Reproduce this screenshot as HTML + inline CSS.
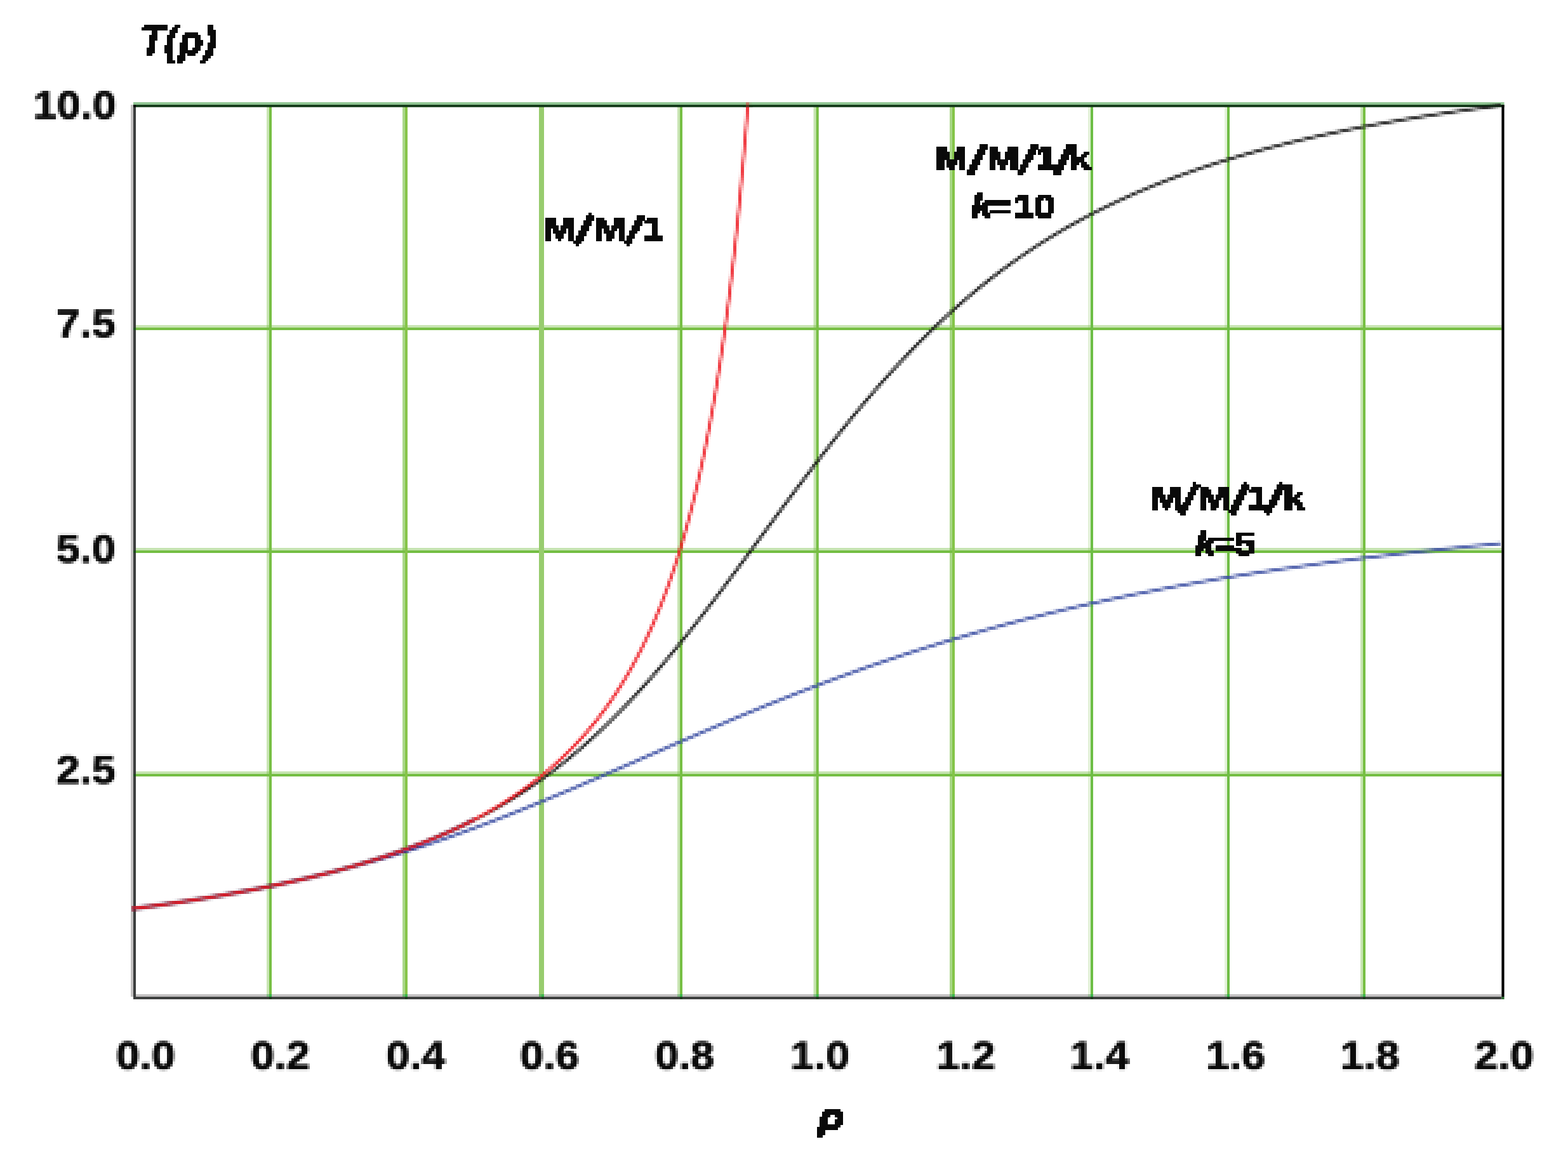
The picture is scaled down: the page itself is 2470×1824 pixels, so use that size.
<!DOCTYPE html>
<html lang="en">
<head>
<meta charset="utf-8">
<title>T(ρ) for M/M/1 and M/M/1/k queues</title>
<style>
html,body{margin:0;padding:0;background:#fff;}
body{width:2470px;height:1824px;overflow:hidden;}
svg{display:block;}
text{font-family:"Liberation Sans",sans-serif;font-weight:bold;fill:#0a0a0a;}
</style>
</head>
<body>
<svg xmlns="http://www.w3.org/2000/svg" width="2470" height="1824" viewBox="0 0 2470 1824" role="img" aria-label="Mean time in system T(ρ) versus load ρ for M/M/1 and M/M/1/k queues">
<defs>
<clipPath id="plotclip"><rect x="206" y="161" width="2159.4" height="1413"/></clipPath>
<filter id="pxc" x="200" y="148" width="2176" height="1432" filterUnits="userSpaceOnUse" primitiveUnits="userSpaceOnUse" color-interpolation-filters="sRGB">
<feGaussianBlur in="SourceGraphic" stdDeviation="0.8" result="b"/>
<feFlood x="201" y="149" width="1" height="1" flood-color="#000" flood-opacity="1" result="dot"/>
<feComposite in="dot" in2="dot" operator="over" x="200" y="148" width="4" height="4" result="cell"/>
<feTile in="cell" result="grid"/>
<feComposite in="b" in2="grid" operator="in" result="samp0"/>
<feOffset in="samp0" dx="0" dy="0" result="samp"/>
<feMorphology in="samp" operator="dilate" radius="2" result="m2"/>
<feGaussianBlur in="m2" stdDeviation="0.5"/>
</filter>
<filter id="px-yticks" x="28" y="120" width="172" height="1140" filterUnits="userSpaceOnUse" primitiveUnits="userSpaceOnUse" color-interpolation-filters="sRGB">
<feGaussianBlur in="SourceGraphic" stdDeviation="0.8" result="b"/>
<feFlood x="29" y="121" width="1" height="1" flood-color="#000" flood-opacity="1" result="dot"/>
<feComposite in="dot" in2="dot" operator="over" x="28" y="120" width="4" height="4" result="cell"/>
<feTile in="cell" result="grid"/>
<feComposite in="b" in2="grid" operator="in" result="samp0"/>
<feOffset in="samp0" dx="0" dy="0" result="samp"/>
<feMorphology in="samp" operator="dilate" radius="2" result="m2"/>
<feGaussianBlur in="m2" stdDeviation="0.5"/>
</filter>
<filter id="px-xticks" x="160" y="1620" width="2280" height="92" filterUnits="userSpaceOnUse" primitiveUnits="userSpaceOnUse" color-interpolation-filters="sRGB">
<feGaussianBlur in="SourceGraphic" stdDeviation="0.8" result="b"/>
<feFlood x="161" y="1621" width="1" height="1" flood-color="#000" flood-opacity="1" result="dot"/>
<feComposite in="dot" in2="dot" operator="over" x="160" y="1620" width="4" height="4" result="cell"/>
<feTile in="cell" result="grid"/>
<feComposite in="b" in2="grid" operator="in" result="samp0"/>
<feOffset in="samp0" dx="0" dy="0" result="samp"/>
<feMorphology in="samp" operator="dilate" radius="2" result="m2"/>
<feGaussianBlur in="m2" stdDeviation="0.5"/>
</filter>
<filter id="px-ytitle" x="200" y="20" width="172" height="100" filterUnits="userSpaceOnUse" primitiveUnits="userSpaceOnUse" color-interpolation-filters="sRGB">
<feGaussianBlur in="SourceGraphic" stdDeviation="0.8" result="b"/>
<feFlood x="201" y="21" width="1" height="1" flood-color="#000" flood-opacity="1" result="dot"/>
<feComposite in="dot" in2="dot" operator="over" x="200" y="20" width="4" height="4" result="cell"/>
<feTile in="cell" result="grid"/>
<feComposite in="b" in2="grid" operator="in" result="samp0"/>
<feComponentTransfer in="samp0" result="samp"><feFuncA type="discrete" tableValues="0 1"/></feComponentTransfer>
<feMorphology in="samp" operator="dilate" radius="2" result="m2"/>
<feGaussianBlur in="m2" stdDeviation="0.5"/>
</filter>
<filter id="px-xtitle" x="1260" y="1720" width="100" height="100" filterUnits="userSpaceOnUse" primitiveUnits="userSpaceOnUse" color-interpolation-filters="sRGB">
<feGaussianBlur in="SourceGraphic" stdDeviation="0.8" result="b"/>
<feFlood x="1261" y="1721" width="1" height="1" flood-color="#000" flood-opacity="1" result="dot"/>
<feComposite in="dot" in2="dot" operator="over" x="1260" y="1720" width="4" height="4" result="cell"/>
<feTile in="cell" result="grid"/>
<feComposite in="b" in2="grid" operator="in" result="samp0"/>
<feComponentTransfer in="samp0" result="samp"><feFuncA type="discrete" tableValues="0 1"/></feComponentTransfer>
<feMorphology in="samp" operator="dilate" radius="2" result="m2"/>
<feGaussianBlur in="m2" stdDeviation="0.5"/>
</filter>
<filter id="px-lab-mm1" x="840" y="308" width="232" height="104" filterUnits="userSpaceOnUse" primitiveUnits="userSpaceOnUse" color-interpolation-filters="sRGB">
<feGaussianBlur in="SourceGraphic" stdDeviation="0.8" result="b"/>
<feFlood x="841" y="309" width="1" height="1" flood-color="#000" flood-opacity="1" result="dot"/>
<feComposite in="dot" in2="dot" operator="over" x="840" y="308" width="4" height="4" result="cell"/>
<feTile in="cell" result="grid"/>
<feComposite in="b" in2="grid" operator="in" result="samp0"/>
<feComponentTransfer in="samp0" result="samp"><feFuncA type="discrete" tableValues="0 1"/></feComponentTransfer>
<feMorphology in="samp" operator="dilate" radius="2" result="m2"/>
<feGaussianBlur in="m2" stdDeviation="0.5"/>
</filter>
<filter id="px-lab-mm1k10" x="1448" y="200" width="304" height="172" filterUnits="userSpaceOnUse" primitiveUnits="userSpaceOnUse" color-interpolation-filters="sRGB">
<feGaussianBlur in="SourceGraphic" stdDeviation="0.8" result="b"/>
<feFlood x="1449" y="201" width="1" height="1" flood-color="#000" flood-opacity="1" result="dot"/>
<feComposite in="dot" in2="dot" operator="over" x="1448" y="200" width="4" height="4" result="cell"/>
<feTile in="cell" result="grid"/>
<feComposite in="b" in2="grid" operator="in" result="samp0"/>
<feComponentTransfer in="samp0" result="samp"><feFuncA type="discrete" tableValues="0 1"/></feComponentTransfer>
<feMorphology in="samp" operator="dilate" radius="2" result="m2"/>
<feGaussianBlur in="m2" stdDeviation="0.5"/>
</filter>
<filter id="px-lab-mm1k5" x="1788" y="740" width="304" height="160" filterUnits="userSpaceOnUse" primitiveUnits="userSpaceOnUse" color-interpolation-filters="sRGB">
<feGaussianBlur in="SourceGraphic" stdDeviation="0.8" result="b"/>
<feFlood x="1789" y="741" width="1" height="1" flood-color="#000" flood-opacity="1" result="dot"/>
<feComposite in="dot" in2="dot" operator="over" x="1788" y="740" width="4" height="4" result="cell"/>
<feTile in="cell" result="grid"/>
<feComposite in="b" in2="grid" operator="in" result="samp0"/>
<feComponentTransfer in="samp0" result="samp"><feFuncA type="discrete" tableValues="0 1"/></feComponentTransfer>
<feMorphology in="samp" operator="dilate" radius="2" result="m2"/>
<feGaussianBlur in="m2" stdDeviation="0.5"/>
</filter>
</defs>
<rect width="2470" height="1824" fill="#fff"/>
<g id="grid">
<rect x="214" y="512" width="2151.5" height="4" fill="#77bf44" fill-opacity="0.4"/>
<rect x="212" y="516" width="2153.5" height="4" fill="#77bf44"/>
<rect x="214" y="863" width="2151.5" height="4" fill="#77bf44" fill-opacity="0.42"/>
<rect x="212" y="867" width="2153.5" height="4" fill="#74be43"/>
<rect x="214" y="1215" width="2151.5" height="4" fill="#77bf44" fill-opacity="0.42"/>
<rect x="212" y="1219" width="2153.5" height="4" fill="#74be43"/>
<rect x="420" y="168" width="4" height="1402" fill="#77bf44" fill-opacity="0.4"/>
<rect x="424" y="168" width="4" height="1402" fill="#77bf44"/>
<rect x="634" y="168" width="4" height="1402" fill="#77bf44" fill-opacity="0.62"/>
<rect x="638" y="168" width="4" height="1402" fill="#86c448"/>
<rect x="849" y="168" width="8" height="1402" fill="#98cc6e"/>
<rect x="1067" y="168" width="4" height="1402" fill="#77bf44" fill-opacity="0.4"/>
<rect x="1071" y="168" width="4" height="1402" fill="#77bf44"/>
<rect x="1281.5" y="168" width="4.0" height="1402" fill="#77bf44" fill-opacity="0.42"/>
<rect x="1285.5" y="168" width="4.2000000000000455" height="1402" fill="#76be43"/>
<rect x="1496" y="168" width="4" height="1402" fill="#77bf44" fill-opacity="0.64"/>
<rect x="1500" y="168" width="4" height="1402" fill="#84c448"/>
<rect x="1714" y="168" width="4" height="1402" fill="#77bf44" fill-opacity="0.21"/>
<rect x="1718" y="168" width="4" height="1402" fill="#6dbe46"/>
<rect x="1929" y="168" width="4" height="1402" fill="#77bf44" fill-opacity="0.2"/>
<rect x="1933" y="168" width="4" height="1402" fill="#6fbd45"/>
<rect x="2143" y="168" width="4" height="1402" fill="#77bf44" fill-opacity="0.4"/>
<rect x="2147" y="168" width="4" height="1402" fill="#77bf43"/>
</g>
<g id="frame">
<rect x="214" y="1566" width="2151.5" height="4" fill="#c3c1c1"/>
<rect x="210" y="1570" width="2155.5" height="4" fill="#3e403f"/>
<rect x="420" y="1566" width="4" height="4" fill="#5fb560" fill-opacity="0.60"/>
<rect x="424" y="1566" width="4" height="4" fill="#3ab54a"/>
<rect x="424" y="1570" width="4" height="4" fill="#1f3d1f"/>
<rect x="634" y="1566" width="4" height="4" fill="#5fb560" fill-opacity="0.82"/>
<rect x="638" y="1566" width="4" height="4" fill="#3ab54a"/>
<rect x="638" y="1570" width="4" height="4" fill="#1f3d1f"/>
<rect x="849" y="1566" width="4" height="4" fill="#5fb560" fill-opacity="0.98"/>
<rect x="853" y="1566" width="4" height="4" fill="#3ab54a"/>
<rect x="853" y="1570" width="4" height="4" fill="#1f3d1f"/>
<rect x="1067" y="1566" width="4" height="4" fill="#5fb560" fill-opacity="0.60"/>
<rect x="1071" y="1566" width="4" height="4" fill="#3ab54a"/>
<rect x="1071" y="1570" width="4" height="4" fill="#1f3d1f"/>
<rect x="1281.5" y="1566" width="4.0" height="4" fill="#5fb560" fill-opacity="0.62"/>
<rect x="1285.5" y="1566" width="4.2000000000000455" height="4" fill="#3ab54a"/>
<rect x="1285.5" y="1570" width="4.2000000000000455" height="4" fill="#1f3d1f"/>
<rect x="1496" y="1566" width="4" height="4" fill="#5fb560" fill-opacity="0.84"/>
<rect x="1500" y="1566" width="4" height="4" fill="#3ab54a"/>
<rect x="1500" y="1570" width="4" height="4" fill="#1f3d1f"/>
<rect x="1714" y="1566" width="4" height="4" fill="#5fb560" fill-opacity="0.41"/>
<rect x="1718" y="1566" width="4" height="4" fill="#3ab54a"/>
<rect x="1718" y="1570" width="4" height="4" fill="#1f3d1f"/>
<rect x="1929" y="1566" width="4" height="4" fill="#5fb560" fill-opacity="0.40"/>
<rect x="1933" y="1566" width="4" height="4" fill="#3ab54a"/>
<rect x="1933" y="1570" width="4" height="4" fill="#1f3d1f"/>
<rect x="2143" y="1566" width="4" height="4" fill="#5fb560" fill-opacity="0.60"/>
<rect x="2147" y="1566" width="4" height="4" fill="#3ab54a"/>
<rect x="2147" y="1570" width="4" height="4" fill="#1f3d1f"/>
<rect x="206" y="165" width="4" height="1405" fill="#c3c1c1"/>
<rect x="210" y="165" width="4" height="1409" fill="#3c3e3d"/>
<rect x="210" y="516" width="4" height="4" fill="#1f4a22"/>
<rect x="210" y="867" width="4" height="4" fill="#1f4a22"/>
<rect x="210" y="1219" width="4" height="4" fill="#1f4a22"/>
<rect x="210" y="161" width="2159.6" height="4" fill="#8fc492"/>
<rect x="210" y="165" width="2159.6" height="3.8" fill="#133a19"/>
<rect x="210" y="165" width="4" height="3.8" fill="#050805"/>
</g>
<g id="curves" clip-path="url(#plotclip)">
<g fill="none" stroke-width="3.3" stroke-linejoin="round" filter="url(#pxc)">
<path d="M208.0 1431.5 L215.2 1430.6 L222.4 1429.6 L229.6 1428.6 L236.7 1427.7 L243.9 1426.7 L251.1 1425.6 L258.3 1424.6 L265.5 1423.6 L272.7 1422.5 L279.9 1421.5 L287.0 1420.4 L294.2 1419.3 L301.4 1418.2 L308.6 1417.0 L315.8 1415.9 L323.0 1414.7 L330.1 1413.5 L337.3 1412.3 L344.5 1411.1 L351.7 1409.9 L358.9 1408.6 L366.1 1407.4 L373.3 1406.1 L380.4 1404.8 L387.6 1403.4 L394.8 1402.1 L402.0 1400.7 L409.2 1399.3 L416.4 1397.9 L423.6 1396.4 L430.7 1395.0 L437.9 1393.5 L445.1 1392.0 L452.3 1390.4 L459.5 1388.9 L466.7 1387.3 L473.8 1385.7 L481.0 1384.1 L488.2 1382.4 L495.4 1380.7 L502.6 1379.0 L509.8 1377.3 L517.0 1375.5 L524.1 1373.7 L531.3 1371.9 L538.5 1370.1 L545.7 1368.2 L552.9 1366.3 L560.1 1364.4 L567.2 1362.4 L574.4 1360.4 L581.6 1358.4 L588.8 1356.4 L596.0 1354.3 L603.2 1352.2 L610.4 1350.1 L617.5 1347.9 L624.7 1345.8 L631.9 1343.5 L639.1 1341.3 L646.3 1339.0 L653.5 1336.7 L660.7 1334.4 L667.8 1332.1 L675.0 1329.7 L682.2 1327.3 L689.4 1324.8 L696.6 1322.4 L703.8 1319.9 L711.0 1317.4 L718.1 1314.8 L725.3 1312.2 L732.5 1309.6 L739.7 1307.0 L746.9 1304.4 L754.1 1301.7 L761.2 1299.0 L768.4 1296.3 L775.6 1293.6 L782.8 1290.8 L790.0 1288.0 L797.2 1285.2 L804.4 1282.4 L811.5 1279.5 L818.7 1276.6 L825.9 1273.7 L833.1 1270.8 L840.3 1267.9 L847.5 1265.0 L854.6 1262.0 L861.8 1259.0 L869.0 1256.0 L876.2 1253.0 L883.4 1250.0 L890.6 1247.0 L897.8 1243.9 L904.9 1240.9 L912.1 1237.8 L919.3 1234.7 L926.5 1231.6 L933.7 1228.5 L940.9 1225.4 L948.1 1222.3 L955.2 1219.2 L962.4 1216.1 L969.6 1212.9 L976.8 1209.8 L984.0 1206.7 L991.2 1203.5 L998.3 1200.4 L1005.5 1197.2 L1012.7 1194.1 L1019.9 1190.9 L1027.1 1187.8 L1034.3 1184.7 L1041.5 1181.5 L1048.6 1178.4 L1055.8 1175.3 L1063.0 1172.1 L1070.2 1169.0 L1077.4 1165.9 L1084.6 1162.8 L1091.8 1159.7 L1098.9 1156.6 L1106.1 1153.5 L1113.3 1150.4 L1120.5 1147.3 L1127.7 1144.3 L1134.9 1141.2 L1142.1 1138.2 L1149.2 1135.1 L1156.4 1132.1 L1163.6 1129.1 L1170.8 1126.1 L1178.0 1123.1 L1185.2 1120.2 L1192.3 1117.2 L1199.5 1114.3 L1206.7 1111.3 L1213.9 1108.4 L1221.1 1105.5 L1228.3 1102.7 L1235.5 1099.8 L1242.6 1097.0 L1249.8 1094.1 L1257.0 1091.3 L1264.2 1088.5 L1271.4 1085.8 L1278.6 1083.0 L1285.8 1080.4 L1292.9 1077.5 L1300.1 1074.8 L1307.3 1072.1 L1314.5 1069.5 L1321.7 1066.8 L1328.9 1064.2 L1336.0 1061.6 L1343.2 1059.0 L1350.4 1056.4 L1357.6 1053.9 L1364.8 1051.3 L1372.0 1048.8 L1379.2 1046.3 L1386.3 1043.9 L1393.5 1041.4 L1400.7 1039.0 L1407.9 1036.6 L1415.1 1034.2 L1422.3 1031.8 L1429.5 1029.4 L1436.6 1027.1 L1443.8 1024.8 L1451.0 1022.5 L1458.2 1020.2 L1465.4 1018.0 L1472.6 1015.8 L1479.7 1013.5 L1486.9 1011.4 L1494.1 1009.2 L1501.3 1007.0 L1508.5 1004.9 L1515.7 1002.8 L1522.9 1000.7 L1530.0 998.6 L1537.2 996.6 L1544.4 994.5 L1551.6 992.5 L1558.8 990.5 L1566.0 988.5 L1573.1 986.6 L1580.3 984.6 L1587.5 982.7 L1594.7 980.8 L1601.9 978.9 L1609.1 977.0 L1616.3 975.2 L1623.4 973.4 L1630.6 971.6 L1637.8 969.8 L1645.0 968.0 L1652.2 966.2 L1659.4 964.5 L1666.6 962.8 L1673.7 961.0 L1680.9 959.4 L1688.1 957.7 L1695.3 956.0 L1702.5 954.4 L1709.7 952.8 L1716.8 951.1 L1724.0 949.6 L1731.2 948.0 L1738.4 946.4 L1745.6 944.9 L1752.8 943.3 L1760.0 941.8 L1767.1 940.3 L1774.3 938.8 L1781.5 937.4 L1788.7 935.9 L1795.9 934.5 L1803.1 933.1 L1810.3 931.6 L1817.4 930.3 L1824.6 928.9 L1831.8 927.5 L1839.0 926.1 L1846.2 924.8 L1853.4 923.5 L1860.6 922.2 L1867.7 920.9 L1874.9 919.6 L1882.1 918.3 L1889.3 917.0 L1896.5 915.8 L1903.7 914.6 L1910.8 913.3 L1918.0 912.1 L1925.2 910.9 L1932.4 909.7 L1939.6 908.6 L1946.8 907.4 L1954.0 906.2 L1961.1 905.1 L1968.3 904.0 L1975.5 902.9 L1982.7 901.7 L1989.9 900.7 L1997.1 899.6 L2004.2 898.5 L2011.4 897.4 L2018.6 896.4 L2025.8 895.3 L2033.0 894.3 L2040.2 893.3 L2047.4 892.3 L2054.5 891.3 L2061.7 890.3 L2068.9 889.3 L2076.1 888.3 L2083.3 887.4 L2090.5 886.4 L2097.7 885.5 L2104.8 884.5 L2112.0 883.6 L2119.2 882.7 L2126.4 881.8 L2133.6 880.9 L2140.8 880.0 L2147.9 879.1 L2155.1 878.2 L2162.3 877.3 L2169.5 876.5 L2176.7 875.6 L2183.9 874.8 L2191.1 874.0 L2198.2 873.1 L2205.4 872.3 L2212.6 871.5 L2219.8 870.7 L2227.0 869.9 L2234.2 869.1 L2241.4 868.3 L2248.5 867.6 L2255.7 866.8 L2262.9 866.0 L2270.1 865.3 L2277.3 864.5 L2284.5 863.8 L2291.7 863.1 L2298.8 862.4 L2306.0 861.6 L2313.2 860.9 L2320.4 860.2 L2327.6 859.5 L2334.8 858.8 L2341.9 858.1 L2349.1 857.5 L2356.3 856.8 L2363.5 856.1" stroke="#3b4ea2"/>
<path d="M208.0 1431.5 L215.2 1430.6 L222.4 1429.6 L229.6 1428.6 L236.7 1427.7 L243.9 1426.7 L251.1 1425.6 L258.3 1424.6 L265.5 1423.6 L272.7 1422.5 L279.9 1421.5 L287.0 1420.4 L294.2 1419.3 L301.4 1418.2 L308.6 1417.0 L315.8 1415.9 L323.0 1414.7 L330.1 1413.5 L337.3 1412.3 L344.5 1411.1 L351.7 1409.9 L358.9 1408.6 L366.1 1407.4 L373.3 1406.1 L380.4 1404.7 L387.6 1403.4 L394.8 1402.0 L402.0 1400.7 L409.2 1399.3 L416.4 1397.8 L423.6 1396.4 L430.7 1394.9 L437.9 1393.4 L445.1 1391.9 L452.3 1390.3 L459.5 1388.7 L466.7 1387.1 L473.8 1385.5 L481.0 1383.8 L488.2 1382.1 L495.4 1380.4 L502.6 1378.7 L509.8 1376.9 L517.0 1375.0 L524.1 1373.2 L531.3 1371.3 L538.5 1369.4 L545.7 1367.4 L552.9 1365.4 L560.1 1363.3 L567.2 1361.3 L574.4 1359.1 L581.6 1357.0 L588.8 1354.7 L596.0 1352.5 L603.2 1350.2 L610.4 1347.8 L617.5 1345.4 L624.7 1343.0 L631.9 1340.5 L639.1 1337.9 L646.3 1335.3 L653.5 1332.6 L660.7 1329.9 L667.8 1327.1 L675.0 1324.2 L682.2 1321.3 L689.4 1318.3 L696.6 1315.2 L703.8 1312.1 L711.0 1308.9 L718.1 1305.6 L725.3 1302.3 L732.5 1298.9 L739.7 1295.3 L746.9 1291.8 L754.1 1288.1 L761.2 1284.3 L768.4 1280.5 L775.6 1276.5 L782.8 1272.5 L790.0 1268.3 L797.2 1264.1 L804.4 1259.8 L811.5 1255.3 L818.7 1250.8 L825.9 1246.1 L833.1 1241.3 L840.3 1236.5 L847.5 1231.5 L854.6 1226.4 L861.8 1221.2 L869.0 1215.8 L876.2 1210.3 L883.4 1204.8 L890.6 1199.0 L897.8 1193.2 L904.9 1187.2 L912.1 1181.2 L919.3 1174.9 L926.5 1168.6 L933.7 1162.1 L940.9 1155.5 L948.1 1148.7 L955.2 1141.9 L962.4 1134.8 L969.6 1127.7 L976.8 1120.4 L984.0 1113.0 L991.2 1105.5 L998.3 1097.8 L1005.5 1090.1 L1012.7 1082.2 L1019.9 1074.1 L1027.1 1066.0 L1034.3 1057.7 L1041.5 1049.3 L1048.6 1040.8 L1055.8 1032.2 L1063.0 1023.5 L1070.2 1014.7 L1077.4 1005.8 L1084.6 996.8 L1091.8 987.8 L1098.9 978.6 L1106.1 969.4 L1113.3 960.0 L1120.5 950.7 L1127.7 941.2 L1134.9 931.7 L1142.1 922.2 L1149.2 912.5 L1156.4 902.9 L1163.6 893.2 L1170.8 883.5 L1178.0 873.8 L1185.2 864.0 L1192.3 854.3 L1199.5 844.5 L1206.7 834.8 L1213.9 825.0 L1221.1 815.3 L1228.3 805.5 L1235.5 795.8 L1242.6 786.2 L1249.8 776.5 L1257.0 766.9 L1264.2 757.4 L1271.4 747.9 L1278.6 738.4 L1285.8 728.9 L1292.9 719.7 L1300.1 710.4 L1307.3 701.2 L1314.5 692.1 L1321.7 683.0 L1328.9 674.1 L1336.0 665.2 L1343.2 656.4 L1350.4 647.7 L1357.6 639.1 L1364.8 630.6 L1372.0 622.2 L1379.2 613.8 L1386.3 605.6 L1393.5 597.5 L1400.7 589.5 L1407.9 581.6 L1415.1 573.8 L1422.3 566.1 L1429.5 558.5 L1436.6 551.0 L1443.8 543.7 L1451.0 536.4 L1458.2 529.3 L1465.4 522.2 L1472.6 515.3 L1479.7 508.5 L1486.9 501.7 L1494.1 495.1 L1501.3 488.6 L1508.5 482.3 L1515.7 476.0 L1522.9 469.8 L1530.0 463.7 L1537.2 457.7 L1544.4 451.9 L1551.6 446.1 L1558.8 440.4 L1566.0 434.9 L1573.1 429.4 L1580.3 424.0 L1587.5 418.8 L1594.7 413.6 L1601.9 408.5 L1609.1 403.5 L1616.3 398.6 L1623.4 393.8 L1630.6 389.0 L1637.8 384.4 L1645.0 379.8 L1652.2 375.4 L1659.4 371.0 L1666.6 366.7 L1673.7 362.4 L1680.9 358.3 L1688.1 354.2 L1695.3 350.2 L1702.5 346.3 L1709.7 342.4 L1716.8 338.6 L1724.0 334.9 L1731.2 331.3 L1738.4 327.7 L1745.6 324.2 L1752.8 320.7 L1760.0 317.3 L1767.1 314.0 L1774.3 310.7 L1781.5 307.5 L1788.7 304.3 L1795.9 301.3 L1803.1 298.2 L1810.3 295.2 L1817.4 292.3 L1824.6 289.4 L1831.8 286.6 L1839.0 283.8 L1846.2 281.1 L1853.4 278.4 L1860.6 275.8 L1867.7 273.2 L1874.9 270.7 L1882.1 268.2 L1889.3 265.7 L1896.5 263.3 L1903.7 260.9 L1910.8 258.6 L1918.0 256.3 L1925.2 254.0 L1932.4 251.8 L1939.6 249.7 L1946.8 247.5 L1954.0 245.4 L1961.1 243.3 L1968.3 241.3 L1975.5 239.3 L1982.7 237.3 L1989.9 235.4 L1997.1 233.5 L2004.2 231.6 L2011.4 229.8 L2018.6 228.0 L2025.8 226.2 L2033.0 224.4 L2040.2 222.7 L2047.4 221.0 L2054.5 219.3 L2061.7 217.7 L2068.9 216.0 L2076.1 214.4 L2083.3 212.9 L2090.5 211.3 L2097.7 209.8 L2104.8 208.3 L2112.0 206.8 L2119.2 205.3 L2126.4 203.9 L2133.6 202.5 L2140.8 201.1 L2147.9 199.7 L2155.1 198.4 L2162.3 197.0 L2169.5 195.7 L2176.7 194.4 L2183.9 193.1 L2191.1 191.9 L2198.2 190.6 L2205.4 189.4 L2212.6 188.2 L2219.8 187.0 L2227.0 185.8 L2234.2 184.7 L2241.4 183.5 L2248.5 182.4 L2255.7 181.3 L2262.9 180.2 L2270.1 179.1 L2277.3 178.0 L2284.5 177.0 L2291.7 175.9 L2298.8 174.9 L2306.0 173.9 L2313.2 172.9 L2320.4 171.9 L2327.6 170.9 L2334.8 170.0 L2341.9 169.0 L2349.1 168.1 L2356.3 167.2 L2363.5 166.2" stroke="#161616"/>
<path d="M208.0 1431.5 L214.7 1430.6 L221.5 1429.7 L228.2 1428.8 L234.9 1427.9 L241.7 1427.0 L248.4 1426.0 L255.2 1425.1 L261.9 1424.1 L268.6 1423.1 L275.4 1422.1 L282.1 1421.1 L288.8 1420.1 L295.6 1419.1 L302.3 1418.0 L309.0 1417.0 L315.8 1415.9 L322.5 1414.8 L329.2 1413.7 L336.0 1412.6 L342.7 1411.4 L349.5 1410.3 L356.2 1409.1 L362.9 1407.9 L369.7 1406.7 L376.4 1405.5 L383.1 1404.2 L389.9 1403.0 L396.6 1401.7 L403.3 1400.4 L410.1 1399.1 L416.8 1397.7 L423.6 1396.4 L430.3 1395.0 L437.0 1393.6 L443.8 1392.2 L450.5 1390.7 L457.2 1389.2 L464.0 1387.7 L470.7 1386.2 L477.4 1384.7 L484.2 1383.1 L490.9 1381.5 L497.6 1379.9 L504.4 1378.2 L511.1 1376.5 L517.9 1374.8 L524.6 1373.1 L531.3 1371.3 L538.1 1369.5 L544.8 1367.6 L551.5 1365.8 L558.3 1363.9 L565.0 1361.9 L571.7 1359.9 L578.5 1357.9 L585.2 1355.8 L591.9 1353.7 L598.7 1351.6 L605.4 1349.4 L612.2 1347.2 L618.9 1344.9 L625.6 1342.6 L632.4 1340.2 L639.1 1337.8 L645.8 1335.4 L652.6 1332.9 L659.3 1330.3 L666.0 1327.7 L672.8 1325.0 L679.5 1322.2 L686.3 1319.4 L693.0 1316.5 L699.7 1313.6 L706.5 1310.6 L713.2 1307.5 L719.9 1304.4 L726.7 1301.2 L733.4 1297.9 L740.1 1294.5 L746.9 1291.0" stroke="#2b1f4a" stroke-width="5.4"/>
<path d="M208.0 1431.5 L211.7 1431.0 L215.5 1430.5 L219.2 1430.0 L223.0 1429.5 L226.7 1429.0 L230.5 1428.5 L234.2 1428.0 L238.0 1427.5 L241.7 1427.0 L245.5 1426.4 L249.2 1425.9 L253.0 1425.4 L256.7 1424.8 L260.5 1424.3 L264.2 1423.8 L268.0 1423.2 L271.7 1422.7 L275.5 1422.1 L279.2 1421.6 L283.0 1421.0 L286.7 1420.4 L290.5 1419.9 L294.2 1419.3 L298.0 1418.7 L301.7 1418.1 L305.5 1417.5 L309.2 1416.9 L313.0 1416.3 L316.7 1415.7 L320.5 1415.1 L324.2 1414.5 L328.0 1413.9 L331.7 1413.3 L335.5 1412.7 L339.2 1412.0 L343.0 1411.4 L346.7 1410.7 L350.5 1410.1 L354.2 1409.4 L358.0 1408.8 L361.7 1408.1 L365.5 1407.5 L369.2 1406.8 L373.0 1406.1 L376.7 1405.4 L380.5 1404.7 L384.2 1404.0 L388.0 1403.3 L391.7 1402.6 L395.5 1401.9 L399.2 1401.2 L403.0 1400.5 L406.7 1399.7 L410.5 1399.0 L414.2 1398.3 L418.0 1397.5 L421.7 1396.7 L425.5 1396.0 L429.2 1395.2 L433.0 1394.4 L436.7 1393.7 L440.5 1392.9 L444.2 1392.1 L448.0 1391.3 L451.7 1390.4 L455.5 1389.6 L459.2 1388.8 L463.0 1388.0 L466.7 1387.1 L470.5 1386.3 L474.2 1385.4 L478.0 1384.5 L481.7 1383.7 L485.5 1382.8 L489.2 1381.9 L492.9 1381.0 L496.7 1380.1 L500.4 1379.2 L504.2 1378.3 L507.9 1377.3 L511.7 1376.4 L515.4 1375.4 L519.2 1374.5 L522.9 1373.5 L526.7 1372.5 L530.4 1371.5 L534.2 1370.5 L537.9 1369.5 L541.7 1368.5 L545.4 1367.5 L549.2 1366.4 L552.9 1365.4 L556.7 1364.3 L560.4 1363.2 L564.2 1362.1 L567.9 1361.0 L571.7 1359.9 L575.4 1358.8 L579.2 1357.7 L582.9 1356.5 L586.7 1355.4 L590.4 1354.2 L594.2 1353.0 L597.9 1351.8 L601.7 1350.6 L605.4 1349.4 L609.2 1348.2 L612.9 1346.9 L616.7 1345.7 L620.4 1344.4 L624.2 1343.1 L627.9 1341.8 L631.7 1340.5 L635.4 1339.2 L639.2 1337.8 L642.9 1336.4 L646.7 1335.1 L650.4 1333.7 L654.2 1332.2 L657.9 1330.8 L661.7 1329.4 L665.4 1327.9 L669.2 1326.4 L672.9 1324.9 L676.7 1323.4 L680.4 1321.9 L684.2 1320.3 L687.9 1318.7 L691.7 1317.1 L695.4 1315.5 L699.2 1313.9 L702.9 1312.2 L706.7 1310.5 L710.4 1308.8 L714.2 1307.1 L717.9 1305.3 L721.7 1303.6 L725.4 1301.8 L729.2 1299.9 L732.9 1298.1 L736.7 1296.2 L740.4 1294.3 L744.2 1292.4 L747.9 1290.5 L751.7 1288.5 L755.4 1286.5 L759.2 1284.4 L762.9 1282.4 L766.6 1280.3 L770.4 1278.2 L774.1 1276.0 L777.9 1273.8 L781.6 1271.6 L785.4 1269.4 L789.1 1267.1 L792.9 1264.8 L796.6 1262.4 L800.4 1260.0 L804.1 1257.6 L807.9 1255.1 L811.6 1252.6 L815.4 1250.1 L819.1 1247.5 L822.9 1244.9 L826.6 1242.2 L830.4 1239.5 L834.1 1236.7 L837.9 1233.9 L841.6 1231.0 L845.4 1228.1 L849.1 1225.2 L852.9 1222.2 L856.6 1219.1 L860.4 1216.0 L864.1 1212.9 L867.9 1209.6 L871.6 1206.3 L875.4 1203.0 L879.1 1199.6 L882.9 1196.1 L886.6 1192.6 L890.4 1189.0 L894.1 1185.3 L897.9 1181.6 L901.6 1177.8 L905.4 1173.9 L909.1 1169.9 L912.9 1165.9 L916.6 1161.8 L920.4 1157.6 L924.1 1153.3 L927.9 1148.9 L931.6 1144.4 L935.4 1139.8 L939.1 1135.2 L942.9 1130.4 L946.6 1125.5 L950.4 1120.5 L954.1 1115.4 L957.9 1110.2 L961.6 1104.8 L965.4 1099.4 L969.1 1093.8 L972.9 1088.0 L976.6 1082.2 L980.4 1076.2 L984.1 1070.0 L987.9 1063.7 L991.6 1057.2 L995.4 1050.6 L999.1 1043.7 L1002.9 1036.7 L1006.6 1029.5 L1010.4 1022.2 L1014.1 1014.6 L1017.9 1006.8 L1021.6 998.7 L1025.4 990.5 L1029.1 982.0 L1032.9 973.2 L1036.6 964.2 L1040.4 954.9 L1044.1 945.4 L1047.8 935.5 L1051.6 925.3 L1055.3 914.8 L1059.1 903.9 L1062.8 892.7 L1066.6 881.1 L1070.3 869.0 L1074.1 856.6 L1077.8 843.7 L1081.6 830.3 L1085.3 816.4 L1089.1 802.0 L1092.8 787.1 L1096.6 771.5 L1100.3 755.3 L1104.1 738.4 L1107.8 720.9 L1111.6 702.6 L1115.3 683.4 L1119.1 663.4 L1122.8 642.5 L1126.6 620.6 L1130.3 597.7 L1134.1 573.6 L1137.8 548.3 L1141.6 521.7 L1145.3 493.6 L1149.1 464.0 L1152.8 432.8 L1156.6 399.7 L1160.3 364.7 L1164.1 327.5 L1167.8 287.9 L1171.6 245.7 L1175.3 200.7 L1179.1 152.5 L1182.8 100.8" stroke="#ed1c24"/>
</g>
</g>
<g id="frame-right">
<rect x="1170" y="161" width="16" height="4" fill="#8fc492" fill-opacity="0.45"/>
<rect x="1170" y="165" width="16" height="3.8" fill="#133a19" fill-opacity="0.6"/>
<rect x="2365.4" y="165" width="4.2" height="1405" fill="#000"/>
<rect x="2365.4" y="1570" width="4.2" height="4" fill="#2a6a30"/>
</g>
<g id="yticks" filter="url(#px-yticks)">
<text transform="translate(183.0,187.2) scale(1.075,1)" font-size="62.5" text-anchor="end" stroke="#0a0a0a" stroke-width="0.0">10.0</text>
<text transform="translate(182.0,530.6) scale(1.075,1)" font-size="62.5" text-anchor="end" stroke="#0a0a0a" stroke-width="0.0">7.5</text>
<text transform="translate(182.0,886.0) scale(1.075,1)" font-size="62.5" text-anchor="end" stroke="#0a0a0a" stroke-width="0.0">5.0</text>
<text transform="translate(182.0,1233.6) scale(1.075,1)" font-size="62.5" text-anchor="end" stroke="#0a0a0a" stroke-width="0.0">2.5</text>
</g>
<g id="xticks" filter="url(#px-xticks)">
<text transform="translate(229.5,1683.6) scale(1.075,1)" font-size="62.5" text-anchor="middle" stroke="#0a0a0a" stroke-width="0.0">0.0</text>
<text transform="translate(441.6,1683.6) scale(1.075,1)" font-size="62.5" text-anchor="middle" stroke="#0a0a0a" stroke-width="0.0">0.2</text>
<text transform="translate(655,1683.6) scale(1.075,1)" font-size="62.5" text-anchor="middle" stroke="#0a0a0a" stroke-width="0.0">0.4</text>
<text transform="translate(865.7,1683.6) scale(1.075,1)" font-size="62.5" text-anchor="middle" stroke="#0a0a0a" stroke-width="0.0">0.6</text>
<text transform="translate(1078.5,1683.6) scale(1.075,1)" font-size="62.5" text-anchor="middle" stroke="#0a0a0a" stroke-width="0.0">0.8</text>
<text transform="translate(1291.6,1683.6) scale(1.075,1)" font-size="62.5" text-anchor="middle" stroke="#0a0a0a" stroke-width="0.0">1.0</text>
<text transform="translate(1521.3,1683.6) scale(1.075,1)" font-size="62.5" text-anchor="middle" stroke="#0a0a0a" stroke-width="0.0">1.2</text>
<text transform="translate(1732,1683.6) scale(1.075,1)" font-size="62.5" text-anchor="middle" stroke="#0a0a0a" stroke-width="0.0">1.4</text>
<text transform="translate(1946.3,1683.6) scale(1.075,1)" font-size="62.5" text-anchor="middle" stroke="#0a0a0a" stroke-width="0.0">1.6</text>
<text transform="translate(2157.8,1683.6) scale(1.075,1)" font-size="62.5" text-anchor="middle" stroke="#0a0a0a" stroke-width="0.0">1.8</text>
<text transform="translate(2369.4,1683.6) scale(1.075,1)" font-size="62.5" text-anchor="middle" stroke="#0a0a0a" stroke-width="0.0">2.0</text>
</g>
<g id="ytitle" filter="url(#px-ytitle)">
<text transform="translate(280.5,86.4) scale(1.0,1)" font-size="64" text-anchor="middle" font-style="italic" stroke="#0a0a0a" stroke-width="1.0">T(ρ)</text>
</g>
<g id="xtitle" filter="url(#px-xtitle)">
<text transform="translate(1309.5,1779.2) scale(1.2,1)" font-size="59" text-anchor="middle" font-style="italic" stroke="#0a0a0a" stroke-width="1.0">ρ</text>
</g>
<g id="lab-mm1" filter="url(#px-lab-mm1)">
<text stroke="#0a0a0a" stroke-width="1.0" transform="translate(0,378) scale(1.18,1)" font-size="52.0"><tspan x="746.86" y="0" text-anchor="middle">M</tspan><tspan x="774.66" y="5.0" text-anchor="middle" font-size="67.6" rotate="13.0">/</tspan><tspan x="814.24" y="0" text-anchor="middle">M</tspan><tspan x="842.03" y="5.0" text-anchor="middle" font-size="67.6" rotate="13.0">/</tspan><tspan x="872.54" y="0" text-anchor="middle">1</tspan></text>
</g>
<g id="lab-mm1k10" filter="url(#px-lab-mm1k10)">
<text stroke="#0a0a0a" stroke-width="1.0" transform="translate(0,267) scale(1.18,1)" font-size="52.0"><tspan x="1270.68" y="0" text-anchor="middle">M</tspan><tspan x="1299.83" y="5.0" text-anchor="middle" font-size="67.6" rotate="13.0">/</tspan><tspan x="1338.56" y="0" text-anchor="middle">M</tspan><tspan x="1367.12" y="5.0" text-anchor="middle" font-size="67.6" rotate="13.0">/</tspan><tspan x="1396.61" y="0" text-anchor="middle">1</tspan><tspan x="1414.83" y="5.0" text-anchor="middle" font-size="67.6" rotate="13.0">/</tspan><tspan x="1441.53" y="0" text-anchor="middle">k</tspan></text>
<text stroke="#0a0a0a" stroke-width="1.0" transform="translate(0,343.3) scale(1.18,1)" font-size="52.0"><tspan x="1310.17" y="0" text-anchor="middle" font-style="italic">k</tspan><tspan x="1335.59" y="0" text-anchor="middle" stroke="none">=</tspan><tspan x="1366.78" y="0" text-anchor="middle">1</tspan><tspan x="1394.07" y="0" text-anchor="middle">0</tspan></text>
</g>
<g id="lab-mm1k5" filter="url(#px-lab-mm1k5)">
<text stroke="#0a0a0a" stroke-width="1.0" transform="translate(0,802) scale(1.18,1)" font-size="52.0"><tspan x="1556.95" y="0" text-anchor="middle">M</tspan><tspan x="1582.20" y="5.0" text-anchor="middle" font-size="67.6" rotate="13.0">/</tspan><tspan x="1621.02" y="0" text-anchor="middle">M</tspan><tspan x="1649.49" y="5.0" text-anchor="middle" font-size="67.6" rotate="13.0">/</tspan><tspan x="1679.15" y="0" text-anchor="middle">1</tspan><tspan x="1696.44" y="5.0" text-anchor="middle" font-size="67.6" rotate="13.0">/</tspan><tspan x="1727.12" y="0" text-anchor="middle">k</tspan></text>
<text stroke="#0a0a0a" stroke-width="1.0" transform="translate(0,874.3) scale(1.18,1)" font-size="52.0"><tspan x="1609.32" y="0" text-anchor="middle" font-style="italic">k</tspan><tspan x="1634.75" y="0" text-anchor="middle" stroke="none">=</tspan><tspan x="1661.86" y="0" text-anchor="middle">5</tspan></text>
</g>
</svg>
</body>
</html>
